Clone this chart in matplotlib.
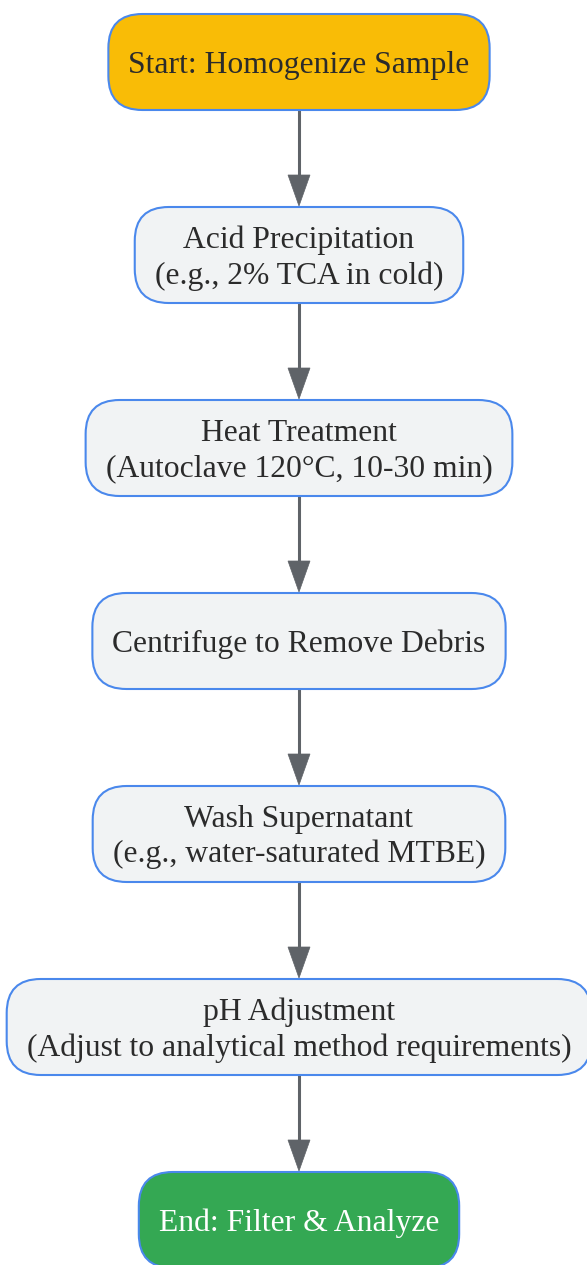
import matplotlib
matplotlib.use("Agg")
import matplotlib.pyplot as plt
from matplotlib.patches import FancyBboxPatch, Polygon

# flow steps, top -> bottom
STEPS = [
    "Start: Homogenize Sample",
    "Acid Precipitation\n(e.g., 2% TCA in cold)",
    "Heat Treatment\n(Autoclave 120°C, 10-30 min)",
    "Centrifuge to Remove Debris",
    "Wash Supernatant\n(e.g., water-saturated MTBE)",
    "pH Adjustment\n(Adjust to analytical method requirements)",
    "End: Filter & Analyze",
]
KINDS = ["start", "step", "step", "step", "step", "step", "end"]

FILL = {"start": "#f9bc06", "step": "#f1f3f4", "end": "#34a853"}
TXT = {"start": "#2b2b2b", "step": "#2b2b2b", "end": "#ffffff"}
EDGE = "#4a88ec"; ARROW = "#5f6368"

W, H = 587, 1265
CX = 299; TOP0 = 14; GAP_Y = 193; BOX_H = 96; PAD_X = 20; RAD = 34

fig = plt.figure(figsize=(W / 100, H / 100), dpi=100)
fig.patch.set_facecolor("white")
ax = fig.add_axes([0, 0, 1, 1])
ax.set_xlim(0, W); ax.set_ylim(H, 0); ax.axis("off")

texts = []
for i, (label, kind) in enumerate(zip(STEPS, KINDS)):
    cy = TOP0 + i * GAP_Y + BOX_H / 2 + 3
    t = ax.text(CX, cy, label, ha="center", va="center", multialignment="center",
                fontsize=22.8, family="Liberation Serif", color=TXT[kind],
                linespacing=1.27, zorder=4)
    texts.append(t)

fig.canvas.draw()
r = fig.canvas.get_renderer()
for i, (t, kind) in enumerate(zip(texts, KINDS)):
    bb = t.get_window_extent(renderer=r)
    bw = bb.width + 2 * PAD_X
    top = TOP0 + i * GAP_Y
    ax.add_patch(FancyBboxPatch((CX - bw / 2, top), bw, BOX_H,
                                boxstyle=f"round,pad=0,rounding_size={RAD}",
                                fc=FILL[kind], ec=EDGE, lw=1.5, zorder=3))

# connectors
for i in range(len(STEPS) - 1):
    y0 = TOP0 + i * GAP_Y + BOX_H
    y1 = TOP0 + (i + 1) * GAP_Y
    ax.plot([CX, CX], [y0, y1 - 28], color=ARROW, lw=2.2, zorder=2,
            solid_capstyle="butt")
    ax.add_patch(Polygon([(CX - 11, y1 - 32), (CX + 11, y1 - 32), (CX, y1 - 1)],
                         closed=True, fc=ARROW, ec=ARROW, lw=0.5, zorder=2))

fig.savefig("out.png", dpi=100, facecolor="white")
